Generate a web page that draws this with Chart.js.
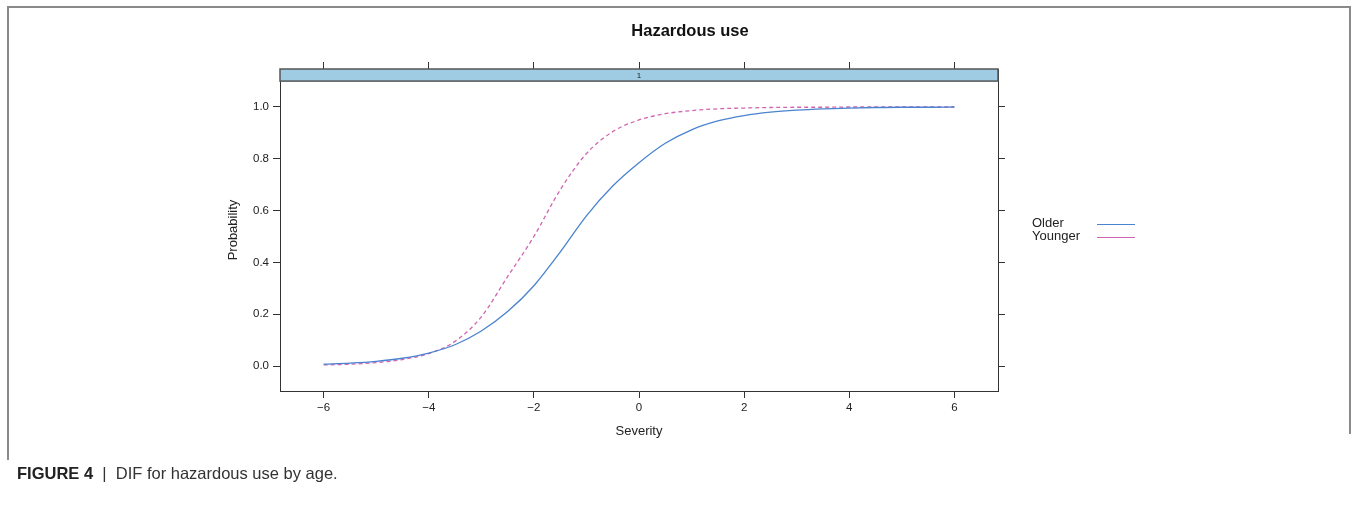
<!DOCTYPE html>
<html>
<head>
<meta charset="utf-8">
<script src="https://cdn.jsdelivr.net/npm/chart.js@4"></script>
<style>
html, body { margin: 0; padding: 0; background: #fff; }
body { width: 1357px; height: 505px; position: relative; overflow: hidden; font-family: "Liberation Sans", Arial, sans-serif; }
#frame { position: absolute; left: 7px; top: 6px; width: 1344px; height: 428px; box-sizing: border-box;
  border-top: 2px solid #8a8a8a; border-left: 2px solid #8a8a8a; border-right: 2px solid #8a8a8a; }
#frameTail { position: absolute; left: 7px; top: 434px; width: 2px; height: 26px; background: #8a8a8a; }
#chart { position: absolute; left: 0; top: 0; }
#legend { position: absolute; left: 1032px; top: 217px; font-size: 13px; line-height: 12.5px; color: #222; }
#legend .row { position: relative; height: 12.5px; }
#legend .sw { position: absolute; left: 65px; top: 7px; width: 38px; height: 0; border-top: 1.5px solid; }
#caption { position: absolute; left: 17px; top: 464px; font-size: 16.5px; color: #333; white-space: nowrap; }
#caption b { font-weight: bold; color: #222; }
</style>
</head>
<body>
<div id="frame"></div>
<div id="frameTail"></div>
<canvas id="chart" width="1357" height="505"></canvas>
<div id="legend"></div>
<div id="caption"><b>FIGURE 4</b> &nbsp;|&nbsp; DIF for hazardous use by age.</div>
<script>
// Item characteristic curves

const severity = [-6, -5.5, -5, -4.5, -4, -3.5, -3, -2.5, -2, -1.5, -1, -0.5, 0,
                  0.5, 1, 1.5, 2, 2.5, 3, 3.5, 4, 4.5, 5, 5.5, 6];
const older = [0.007, 0.011, 0.018, 0.030, 0.050, 0.082, 0.135, 0.21, 0.31, 0.44, 0.58, 0.695, 0.785,
               0.86, 0.912, 0.946, 0.967, 0.98, 0.988, 0.993, 0.996, 0.998, 0.999, 0.999, 1.0];
const younger = [0.004, 0.007, 0.013, 0.025, 0.048, 0.095, 0.19, 0.345, 0.50, 0.68, 0.82, 0.905, 0.95,
                 0.974, 0.986, 0.993, 0.996, 0.998, 0.999, 0.999, 1.0, 1.0, 1.0, 1.0, 1.0];
const seriesNames = ["Older", "Younger"];
const seriesColors = ["#4a83cf", "#d065b2"];

const xTicks = [-6, -4, -2, 0, 2, 4, 6];
const yTicks = [0, 0.2, 0.4, 0.6, 0.8, 1.0];
const stripLabel = "1";
const title = "Hazardous use";

const xMin = -6.83, xMax = 6.83;
const yMin = -0.0965, yPanelTop = 1.1, yMax = 1.1467;

const axisColor = "#333";
const font = "'Liberation Sans', Arial, sans-serif";

function pts(ys) {
    return severity.map((x, i) => ({ x: x, y: ys[i] }));
}

function tickMarks(values) {
    return function (scale) {
        scale.ticks = values.map(v => ({ value: v }));
    };
}

const markGrid = { display: true, drawOnChartArea: false, drawTicks: true, tickLength: 7, color: axisColor, lineWidth: 1 };
const markBorder = { display: true, color: axisColor, width: 1 };

// strip on top of the panel, lattice style
const stripPlugin = {
    id: "strip",
    afterDraw(chart) {
        const ctx = chart.ctx;
        const a = chart.chartArea;
        const yb = chart.scales.y.getPixelForValue(yPanelTop);
        ctx.save();
        ctx.fillStyle = "#9fcce3";
        ctx.fillRect(a.left, a.top, a.right - a.left, yb - a.top);
        ctx.strokeStyle = "#555";
        ctx.lineWidth = 1.5;
        ctx.strokeRect(a.left, a.top, a.right - a.left, yb - a.top);
        ctx.fillStyle = "#222";
        ctx.font = "8px " + font;
        ctx.textAlign = "center";
        ctx.textBaseline = "middle";
        ctx.fillText(stripLabel, (a.left + a.right) / 2, (a.top + yb) / 2 + 0.5);
        // title
        ctx.font = "bold 16.5px " + font;
        ctx.fillStyle = "#111";
        ctx.fillText(title, 690, 31);
        ctx.restore();
    }
};

new Chart(document.getElementById("chart").getContext("2d"), {
    type: "line",
    data: {
        datasets: [
            {
                label: seriesNames[0],
                data: pts(older),
                borderColor: seriesColors[0],
                borderWidth: 1.3,
                pointRadius: 0,
                cubicInterpolationMode: "monotone",
                fill: false
            },
            {
                label: seriesNames[1],
                data: pts(younger),
                borderColor: seriesColors[1],
                borderWidth: 1.3,
                borderDash: [4, 3],
                pointRadius: 0,
                cubicInterpolationMode: "monotone",
                fill: false
            }
        ]
    },
    options: {
        responsive: false,
        animation: false,
        devicePixelRatio: 1,
        layout: { padding: { left: 222, right: 352, top: 62, bottom: 64 } },
        plugins: { legend: { display: false }, tooltip: { enabled: false } },
        scales: {
            x: {
                type: "linear", position: "bottom", min: xMin, max: xMax,
                afterBuildTicks: tickMarks(xTicks),
                afterFit: s => { s.height = 50; },
                grid: markGrid, border: markBorder,
                ticks: { padding: 3, color: "#222", font: { size: 11.5, family: font },
                         callback: v => String(v).replace("-", "\u2212") },
                title: { display: true, text: "Severity", color: "#222",
                         font: { size: 13, family: font }, padding: { top: 4, bottom: 2 } }
            },
            x2: {
                type: "linear", position: "top", min: xMin, max: xMax,
                afterBuildTicks: tickMarks(xTicks),
                afterFit: s => { s.height = 7; },
                grid: markGrid, border: markBorder,
                ticks: { display: false }
            },
            y: {
                type: "linear", position: "left", min: yMin, max: yMax,
                afterBuildTicks: tickMarks(yTicks),
                afterFit: s => { s.width = 58; },
                grid: markGrid, border: markBorder,
                ticks: { padding: 4, color: "#222", font: { size: 11.5, family: font },
                         callback: v => v.toFixed(1) },
                title: { display: true, text: "Probability", color: "#222",
                         font: { size: 13, family: font }, padding: { top: 4, bottom: 2 } }
            },
            y2: {
                type: "linear", position: "right", min: yMin, max: yMax,
                afterBuildTicks: tickMarks(yTicks),
                afterFit: s => { s.width = 7; },
                grid: markGrid, border: markBorder,
                ticks: { display: false }
            }
        }
    },
    plugins: [stripPlugin]
});

// legend: text on the left, line sample on the right
const legend = document.getElementById("legend");
seriesNames.forEach((name, i) => {
    const row = document.createElement("div");
    row.className = "row";
    row.textContent = name;
    const sw = document.createElement("span");
    sw.className = "sw";
    sw.style.borderColor = seriesColors[i];
    row.appendChild(sw);
    legend.appendChild(row);
});
</script>
</body>
</html>
